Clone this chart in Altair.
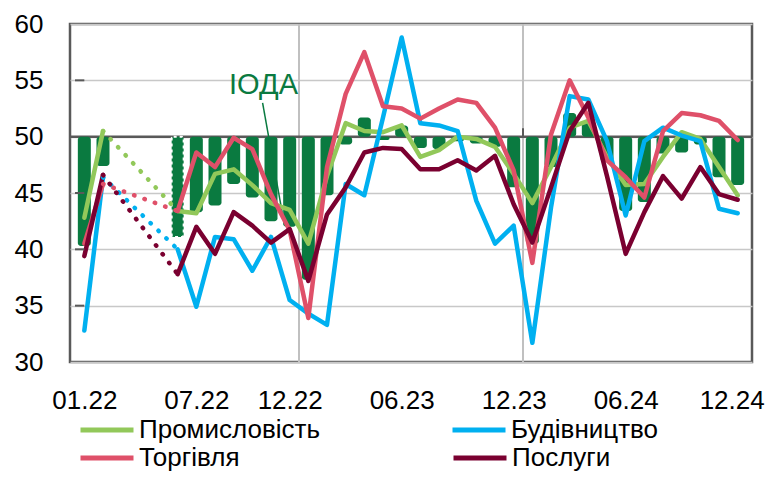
import altair as alt
import pandas as pd

# ---------------- data ----------------
months = [f"{m:02d}.{y}" for y in (22, 23, 24) for m in range(1, 13)]
tick_idx = [0, 6, 11, 17, 23, 29, 35]
y_ticks = [30, 35, 40, 45, 50, 55, 60]

N = None
# ІОДА (bars, drawn from 50)
ioda = [40.3, 47.4, N, N, N, 41.1, 43.3, 43.9, 45.8, 44.6, 42.5, 42.0,
        37.3, 44.8, 49.3, 51.7, 49.7, 51.0, 49.0, 48.9, 49.6, 49.4, 49.1, 45.5,
        40.5, 47.3, 52.1, 51.4, 47.8, 43.4, 44.2, 48.5, 48.6, 49.3, 46.4, 45.7]
prom = [42.8, 50.5, N, N, N, 43.4, 43.2, 46.7, 47.1, 45.7, 44.1, 43.5,
        40.5, 46.5, 51.2, 50.5, 50.4, 51.0, 48.2, 48.8, 50.0, 49.8, 49.1, 46.7,
        44.1, 47.3, 50.8, 51.4, 48.2, 45.7, 45.8, 48.2, 50.4, 49.8, 47.3, 44.8]
bud = [32.8, 46.4, N, N, N, 40.0, 34.9, 41.1, 40.9, 38.1, 41.1, 35.5,
       34.3, 33.3, 45.8, 44.8, 51.7, 58.8, 51.2, 51.0, 50.5, 44.3, 40.5, 42.1,
       31.7, 43.7, 53.6, 53.3, 49.6, 43.0, 49.6, 50.8, 50.1, 49.6, 43.6, 43.2]
torg = [40.5, 45.8, N, N, N, 43.4, 48.6, 47.3, 49.9, 48.9, 44.9, 41.7,
        33.9, 47.3, 53.8, 57.5, 52.7, 52.5, 51.6, 52.5, 53.3, 53.0, 50.8, 47.0,
        38.8, 50.2, 55.0, 51.7, 47.9, 46.4, 44.6, 50.5, 52.1, 51.9, 51.4, 49.7]
posl = [39.4, 46.6, N, N, N, 37.8, 42.0, 39.6, 43.3, 42.1, 40.6, 41.8,
        37.2, 43.1, 45.5, 48.6, 49.0, 48.9, 47.1, 47.1, 47.9, 47.0, 48.3, 44.0,
        40.6, 45.5, 50.5, 53.0, 46.5, 39.6, 43.3, 46.5, 44.5, 47.3, 44.9, 44.4]

series = ["Промисловість", "Будівництво", "Торгівля", "Послуги"]
colors = ["#92C85A", "#00B0F0", "#DF5069", "#7A0030"]
GREEN = "#0A7A40"

gap_from, gap_to = 1, 5          # dotted link between these months
dotted_bar = 5                   # partial-data bar
year_bounds = [11.5, 23.5]       # vertical separators
annot_text = "ІОДА"
annot_pos = [9.6, 53.8]
annot_line = [9.55, 53.0, 10.65, 42.8]

# ---------------- tables ----------------
def line_table(names, vals_list):
    rows = []
    for name, vals in zip(names, vals_list):
        for i, v in enumerate(vals):
            if v is None:
                continue
            rows.append({"i": i, "v": v, "s": name,
                         "seg": name + ("-a" if i <= gap_from else "-b")})
    return pd.DataFrame(rows)


def dot_table(names, vals_list):
    rows = []
    for name, vals in zip(names, vals_list):
        rows.append({"i": gap_from, "v": vals[gap_from], "s": name})
        rows.append({"i": gap_to, "v": vals[gap_to], "s": name})
    return pd.DataFrame(rows)


lines_a = line_table(series[:2], [prom, bud])
lines_b = line_table(series[2:], [torg, posl])
dots_a = dot_table(series[:2], [prom, bud])
dots_b = dot_table(series[2:], [torg, posl])

bars_df = pd.DataFrame([{"i": i, "v": v, "d": i == dotted_bar}
                        for i, v in enumerate(ioda) if v is not None])
bars_solid = bars_df[~bars_df["d"]]
bars_dot = bars_df[bars_df["d"]]

vlines_df = pd.DataFrame({"i": year_bounds})
yt_df = pd.DataFrame({"v": [35, 40, 45, 55], "i": [-0.5] * 4, "i2": [0.0] * 4})
ann_df = pd.DataFrame({"i": [annot_pos[0]], "v": [annot_pos[1]], "t": [annot_text]})
ann_line_df = pd.DataFrame({"i": [annot_line[0]], "v": [annot_line[1]],
                            "i2": [annot_line[2]], "v2": [annot_line[3]]})
base_df = pd.DataFrame({"v": [50]})

FONT = "Liberation Sans"
FS = 26
label_expr = "[" + ",".join(f"'{m}'" for m in months) + "][datum.value]"

x_scale = alt.Scale(domain=[-0.5, 35.5], nice=False, zero=False)
y_scale = alt.Scale(domain=[30, 60], nice=False, zero=False)

x_axis = alt.Axis(values=tick_idx, labelExpr=label_expr, title=None, grid=False,
                  ticks=False, domain=False, labelFontSize=FS, labelFont=FONT,
                  labelColor="black", labelPadding=25, labelFlush=False,
                  labelOverlap=False,
                  labelOffset={"condition": {"test": "datum.value == 35", "value": -6},
                               "value": 0})
y_axis = alt.Axis(values=y_ticks, title=None, grid=True, gridColor="#c8c8c8",
                  gridWidth=1.5, ticks=False, domain=False, labelFontSize=FS,
                  labelFont=FONT, labelColor="black", labelPadding=27)

X = alt.X("i:Q", scale=x_scale, axis=x_axis)
Y = alt.Y("v:Q", scale=y_scale, axis=y_axis)


def legend(y, col_pad):
    return alt.Legend(orient="none", legendX=8, legendY=y, direction="horizontal",
                      symbolType="stroke", symbolSize=2809, symbolStrokeWidth=5,
                      labelFontSize=FS, labelFont=FONT, labelColor="black",
                      columnPadding=col_pad, labelOffset=3, title=None,
                      labelLimit=600)


scale_a = alt.Scale(domain=series[:2], range=colors[:2])
scale_b = alt.Scale(domain=series[2:], range=colors[2:])

vlines = alt.Chart(vlines_df).mark_rule(color="#c0c0c0", strokeWidth=2).encode(x=X)
base50 = alt.Chart(base_df).mark_rule(color="#595959", strokeWidth=2.5).encode(y=Y)
sep_tick = alt.Chart(pd.DataFrame({"i": [year_bounds[1]], "v": [50], "v2": [50.75]})) \
    .mark_rule(color="#595959", strokeWidth=2).encode(x=X, y=Y, y2="v2:Q")

bars = alt.Chart(bars_solid).mark_bar(size=13, cornerRadius=3, color=GREEN).encode(
    x=X, y=Y, y2=alt.datum(50))
bar_d = alt.Chart(bars_dot).mark_bar(size=12, cornerRadius=2, color=GREEN,
                                     stroke="white", strokeWidth=2,
                                     strokeDash=[3, 3]).encode(
    x=X, y=Y, y2=alt.datum(50))

ann_line = alt.Chart(ann_line_df).mark_rule(color=GREEN, strokeWidth=1.5).encode(
    x=X, y=Y, x2="i2:Q", y2="v2:Q")
ann = alt.Chart(ann_df).mark_text(font=FONT, fontSize=29, color=GREEN,
                                  align="center", baseline="alphabetic").encode(
    x=X, y=Y, text="t:N")

line_style = dict(strokeWidth=4.5, strokeJoin="round", strokeCap="round")
dot_style = dict(strokeWidth=4.5, strokeDash=[0.5, 10.5], strokeCap="round")

lines_1 = alt.Chart(lines_a).mark_line(**line_style).encode(
    x=X, y=Y, color=alt.Color("s:N", scale=scale_a, legend=legend(377, 122)),
    detail="seg:N")
dots_1 = alt.Chart(dots_a).mark_line(**dot_style).encode(
    x=X, y=Y, color=alt.Color("s:N", scale=scale_a, legend=None), detail="s:N")
lines_2 = alt.Chart(lines_b).mark_line(**line_style).encode(
    x=X, y=Y, stroke=alt.Stroke("s:N", scale=scale_b, legend=legend(405, 203)),
    detail="seg:N")
dots_2 = alt.Chart(dots_b).mark_line(**dot_style).encode(
    x=X, y=Y, stroke=alt.Stroke("s:N", scale=scale_b, legend=None), detail="s:N")

yticks = alt.Chart(yt_df).mark_rule(color="#595959", strokeWidth=2).encode(
    x=X, x2="i2:Q", y=Y)

chart = alt.layer(vlines, base50, sep_tick, bars, bar_d, ann_line, ann,
                  lines_1, lines_2, dots_1, dots_2, yticks).properties(
    width=682, height=338,
    autosize=alt.AutoSizeParams(type="none"),
    padding={"left": 62, "top": 16, "right": 20, "bottom": 112},
).configure_view(stroke="#595959", strokeWidth=2.5)

chart.save("out.html", embed_options={"renderer": "svg", "actions": False})
